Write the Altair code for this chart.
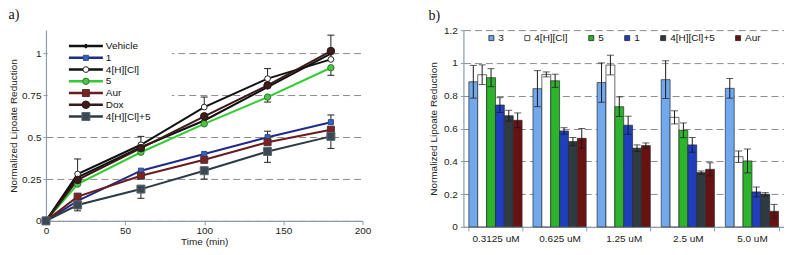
import altair as alt
import pandas as pd

# ---------------- panel a) data ----------------
times = [0, 20, 60, 100, 140, 180]
series_a = ["Vehicle", "1", "4[H][Cl]", "5", "Aur", "Dox", "4[H][Cl]+5"]
vehicle = [0, 0.26, 0.44, 0.60, 0.80, 1.00]
s1 = [0, 0.12, 0.30, 0.40, 0.50, 0.59]
s4h = [0, 0.28, 0.455, 0.68, 0.85, 0.965]
s5 = [0, 0.22, 0.41, 0.58, 0.74, 0.915]
aur = [0, 0.145, 0.27, 0.365, 0.47, 0.545]
dox = [0, 0.245, 0.435, 0.625, 0.81, 1.015]
s4h5 = [0, 0.095, 0.19, 0.30, 0.415, 0.505]
# one-sided error bars (positive = up, negative = down)
err_vehicle = [0, 0, 0, 0, 0, 0]
err_s1 = [0, 0, 0, 0, 0.036, 0.043]
err_s4h = [0, 0.09, 0.05, 0.06, 0.06, 0]
err_s5 = [0, 0, 0, 0, -0.03, -0.045]
err_aur = [0, 0, 0, 0, 0, 0]
err_dox = [0, 0, 0, 0, 0, 0.095]
err_s4h5 = [0, -0.035, -0.055, -0.05, -0.065, -0.072]

# ---------------- panel b) data ----------------
conc = ["0.3125 uM", "0.625 uM", "1.25 uM", "2.5 uM", "5.0 uM"]
series_b = ["3", "4[H][Cl]", "5", "1", "4[H][Cl]+5", "Aur"]
b3 = [0.885, 0.843, 0.88, 0.898, 0.845]
b4h = [0.928, 0.93, 0.987, 0.668, 0.428]
b5 = [0.91, 0.891, 0.733, 0.589, 0.402]
b1 = [0.743, 0.585, 0.62, 0.50, 0.213]
b45 = [0.678, 0.52, 0.48, 0.331, 0.199]
baur = [0.65, 0.54, 0.496, 0.351, 0.095]
e3 = [0.10, 0.11, 0.12, 0.115, 0.06]
e4h = [0.06, 0.015, 0.06, 0.04, 0.035]
e5 = [0.055, 0.04, 0.06, 0.045, 0.073]
e1 = [0.045, 0.02, 0.055, 0.045, 0.03]
e45 = [0.033, 0.025, 0.02, 0.01, 0.01]
eaur = [0.045, 0.06, 0.016, 0.04, 0.042]

# ---------------- build tables ----------------
vals_a = [vehicle, s1, s4h, s5, aur, dox, s4h5]
errs_a = [err_vehicle, err_s1, err_s4h, err_s5, err_aur, err_dox, err_s4h5]
rows = []
for name, vs, es in zip(series_a, vals_a, errs_a):
    for t, v, e in zip(times, vs, es):
        rows.append({"series": name, "time": t, "value": v, "err": e,
                     "end": v + e})
dfa = pd.DataFrame(rows)
dfa_err = dfa[dfa["err"] != 0]
leg_a = pd.DataFrame({"series": series_a, "idx": list(range(len(series_a)))})

vals_b = [b3, b4h, b5, b1, b45, baur]
errs_b = [e3, e4h, e5, e1, e45, eaur]
rows = []
for name, vs, es in zip(series_b, vals_b, errs_b):
    for c, v, e in zip(conc, vs, es):
        rows.append({"grp": name, "conc": c, "value": v,
                     "lo": v - e, "hi": v + e})
dfb = pd.DataFrame(rows)

AXIS_COL = "#8d9cab"
GRID_COL = "#8c8c8c"

# ---------------- panel a) ----------------
line_colors = ["#111111", "#1f2a8a", "#111111", "#2ecc2e", "#6a1c1c", "#3a1818", "#2c3a44"]
fill_colors = ["#111111", "#2f62d6", "#ffffff", "#4cc444", "#7d2222", "#3d1c1c", "#3b4954"]
stroke_colors = ["#111111", "#3a4a6a", "#222222", "#2f7a2f", "#4a3030", "#2a1414", "#5a6670"]
shapes = ["diamond", "square", "circle", "circle", "square", "circle", "square"]
sizes = [18, 64, 64, 64, 64, 64, 64]

col_scale = alt.Scale(domain=series_a, range=line_colors)
fill_scale = alt.Scale(domain=series_a, range=fill_colors)
stroke_scale = alt.Scale(domain=series_a, range=stroke_colors)
shape_scale = alt.Scale(domain=series_a, range=shapes)
size_scale = alt.Scale(domain=series_a, range=sizes)

xa_axis = alt.Axis(values=[0, 50, 100, 150, 200], title="Time (min)", grid=False,
                   tickSize=4, labelPadding=1, titlePadding=1, labelFlush=False)
ya_axis = alt.Axis(values=[0, 0.25, 0.5, 0.75, 1], labelExpr="'' + datum.value",
                   title="Normalized Lipoate Reduction", grid=True,
                   gridDash=[7, 4], gridColor=GRID_COL, tickSize=3,
                   labelPadding=2, titlePadding=3, labelFlush=False)
xa = alt.X("time:Q", scale=alt.Scale(domain=[0, 200], nice=False), axis=xa_axis)
ya_dom = alt.Scale(domain=[0, 1.14], nice=False)

base_a = alt.Chart(dfa)

legend_bg = alt.Chart(leg_a).mark_rect(fill="white").encode(
    x=alt.value(2), x2=alt.value(126), y=alt.value(8), y2=alt.value(96)
)

lines = base_a.mark_line(strokeWidth=2).encode(
    x=xa,
    y=alt.Y("value:Q", scale=ya_dom, axis=ya_axis),
    color=alt.Color("series:N", scale=col_scale, legend=None),
    detail="series:N",
    order="time:Q",
)

err_rule = alt.Chart(dfa_err).mark_rule(color="#222222", strokeWidth=1).encode(
    x=xa,
    y=alt.Y("value:Q", scale=ya_dom, axis=ya_axis),
    y2="end:Q",
)
err_cap = alt.Chart(dfa_err).mark_rule(color="#222222", strokeWidth=1,
                                       xOffset=-3.5, x2Offset=3.5).encode(
    x=xa, x2="time:Q",
    y=alt.Y("end:Q", scale=ya_dom, axis=ya_axis),
)

points = base_a.mark_point(filled=True, strokeWidth=1, opacity=1).encode(
    x=xa,
    y=alt.Y("value:Q", scale=ya_dom, axis=ya_axis),
    fill=alt.Fill("series:N", scale=fill_scale, legend=None),
    stroke=alt.Stroke("series:N", scale=stroke_scale, legend=None),
    shape=alt.Shape("series:N", scale=shape_scale, legend=None),
    size=alt.Size("series:N", scale=size_scale, legend=None),
)

main_a = alt.layer(legend_bg, err_rule, err_cap, lines, points)

leg_y = alt.Y("idx:Q", scale=alt.Scale(domain=[0, 6], range=[16, 86.5]), axis=None)
leg_line = alt.Chart(leg_a).mark_rule(strokeWidth=2.5).encode(
    x=alt.value(23), x2=alt.value(57), y=leg_y,
    color=alt.Color("series:N", scale=col_scale, legend=None),
)
leg_pt = alt.Chart(leg_a).mark_point(filled=True, strokeWidth=1, opacity=1).encode(
    x=alt.value(40), y=leg_y,
    fill=alt.Fill("series:N", scale=fill_scale, legend=None),
    stroke=alt.Stroke("series:N", scale=stroke_scale, legend=None),
    shape=alt.Shape("series:N", scale=shape_scale, legend=None),
    size=alt.Size("series:N", scale=alt.Scale(domain=series_a, range=[14, 40, 45, 45, 40, 45, 40]), legend=None),
)
leg_txt = alt.Chart(leg_a).mark_text(align="left", baseline="middle", fontSize=10,
                                      color="#111111").encode(
    x=alt.value(60), y=leg_y, text="series:N",
)
legend_a = alt.layer(leg_line, leg_pt, leg_txt)

panel_a = alt.layer(main_a, legend_a).resolve_scale(y="independent").properties(
    width=317, height=191,
    title=alt.TitleParams("a)", anchor="start", frame="bounds", font="Liberation Serif",
                          fontSize=14, fontWeight="normal", offset=8, color="#111111"),
)

# ---------------- panel b) ----------------
bar_colors = ["#72a8ee", "#ffffff", "#2cb52c", "#1f3fbd", "#2f3a43", "#6a1212"]

xb = alt.X("conc:N", sort=conc, title=None,
           scale=alt.Scale(paddingInner=0.17, paddingOuter=0.085),
           axis=alt.Axis(tickBand="extent", tickSize=4, labelPadding=3, grid=False,
                         labelAngle=0))
xob = alt.XOffset("grp:N", sort=series_b,
                  scale=alt.Scale(domain=series_b, paddingInner=0, paddingOuter=0))
yb_axis = alt.Axis(values=[0, 0.2, 0.4, 0.6, 0.8, 1, 1.2], labelExpr="'' + datum.value",
                   title="Normalized Lipoate Reduction", grid=True,
                   gridDash=[7, 4], gridColor=GRID_COL, tickSize=3,
                   labelPadding=3, titlePadding=5, labelFlush=False)
yb_dom = alt.Scale(domain=[0, 1.2], nice=False)

bars = alt.Chart(dfb).mark_bar(stroke="#2a2a2a", strokeWidth=0.7).encode(
    x=xb, xOffset=xob,
    y=alt.Y("value:Q", scale=yb_dom, axis=yb_axis),
    fill=alt.Fill("grp:N", sort=series_b,
                  scale=alt.Scale(domain=series_b, range=bar_colors),
                  legend=alt.Legend(orient="none", legendX=23, legendY=3,
                                    direction="horizontal", title=None,
                                    symbolType="square", symbolSize=25,
                                    symbolStrokeColor="#222222", symbolStrokeWidth=0.8,
                                    labelFontSize=10, labelColor="#111111",
                                    columnPadding=18, labelOffset=2, padding=0)),
)
b_rule = alt.Chart(dfb).mark_rule(color="#1a1a1a", strokeWidth=1).encode(
    x=xb, xOffset=xob,
    y=alt.Y("lo:Q", scale=yb_dom, axis=yb_axis), y2="hi:Q",
)
b_cap_hi = alt.Chart(dfb).mark_tick(color="#1a1a1a", thickness=1, size=7).encode(
    x=xb, xOffset=xob, y=alt.Y("hi:Q", scale=yb_dom, axis=yb_axis),
)
b_cap_lo = alt.Chart(dfb).mark_tick(color="#1a1a1a", thickness=1, size=7).encode(
    x=xb, xOffset=xob, y=alt.Y("lo:Q", scale=yb_dom, axis=yb_axis),
)

panel_b = alt.layer(bars, b_rule, b_cap_hi, b_cap_lo).properties(
    width=321, height=197,
    title=alt.TitleParams("b)", anchor="start", frame="bounds", font="Liberation Serif",
                          fontSize=14, fontWeight="normal", offset=2, color="#111111"),
)

chart = alt.hconcat(panel_a, panel_b, spacing=57).resolve_scale(
    color="independent", fill="independent", stroke="independent",
    shape="independent", size="independent",
).resolve_legend(
    color="independent", fill="independent", stroke="independent",
    shape="independent", size="independent",
).properties(
    padding=0
).configure(
    font="Liberation Sans"
).configure_view(
    strokeWidth=0
).configure_axis(
    domainColor=AXIS_COL, tickColor=AXIS_COL, labelFontSize=10, labelColor="#222222",
    titleFontSize=10, titleFontWeight="normal", titleColor="#222222", domainWidth=1.2,
)

chart.save("out.html", embed_options={"renderer": "svg", "actions": False})
